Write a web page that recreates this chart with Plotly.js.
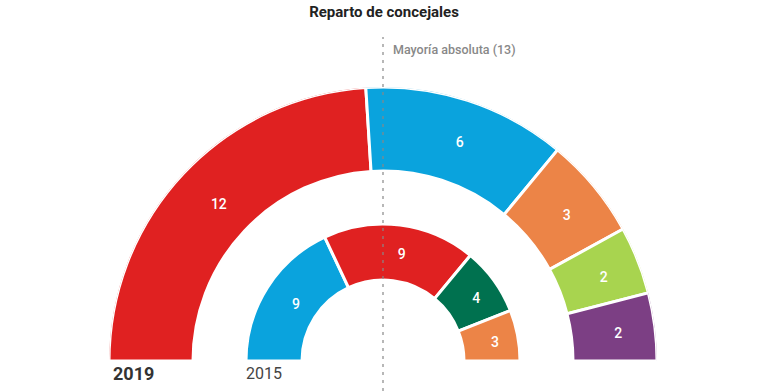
<!DOCTYPE html>
<html>
<head>
<meta charset="utf-8">
<script src="https://cdn.plot.ly/plotly-3.0.1.min.js"></script>
<style>html,body{margin:0;padding:0;background:#fff;}#chart{width:768px;height:391px;}</style>
</head>
<body>
<div id="chart"></div>
<script>
// Data
const seats2019 = [12, 6, 3, 2, 2];
const colors2019 = ['#e02121', '#0aa3dd', '#ec8447', '#a8d44f', '#7c3f84'];
const seats2015 = [9, 9, 4, 3];
const colors2015 = ['#0aa3dd', '#e02121', '#00714f', '#ec8447'];
const totalSeats = 25;
const majority = 13;
const yearLabels = ['2019', '2015'];

// ring radii (in radial axis units)
const outerRing = [190, 274];
const innerRing = [81, 137];

function ring(values, colors, radii) {
  const deg = 180 / totalSeats;
  let cum = 0;
  const theta = [], width = [];
  values.forEach(v => {
    theta.push(180 - (cum + v / 2) * deg);
    width.push(v * deg);
    cum += v;
  });
  const bars = {
    type: 'barpolar', subplot: 'polar',
    r: values.map(() => radii[1] - radii[0]),
    base: values.map(() => radii[0]),
    theta: theta,
    width: width,
    marker: {color: colors, line: {color: '#ffffff', width: 3}},
    hoverinfo: 'skip',
    showlegend: false
  };
  const labels = {
    type: 'scatterpolar', subplot: 'polar2',
    mode: 'text',
    r: values.map(() => (radii[0] + radii[1]) / 2),
    theta: theta,
    text: values.map(String),
    textfont: {color: '#ffffff', size: 14, family: 'Roboto, sans-serif', weight: 500},
    hoverinfo: 'skip',
    showlegend: false
  };
  return [bars, labels];
}

const data = [...ring(seats2019, colors2019, outerRing), ...ring(seats2015, colors2015, innerRing)];

const polarBase = {
  sector: [0, 180],
  bgcolor: 'rgba(0,0,0,0)',
  bargap: 0,
  radialaxis: {visible: false, range: [0, 274]},
  angularaxis: {visible: false, direction: 'counterclockwise', rotation: 0}
};

const layout = {
  width: 768, height: 391,
  margin: {l: 0, r: 0, t: 0, b: 0},
  paper_bgcolor: '#ffffff',
  font: {family: 'Roboto, sans-serif'},
  title: {text: '<b>Reparto de concejales</b>', x: 0.5, xanchor: 'center', y: 0.97, yanchor: 'middle',
          font: {size: 15, color: '#222222', family: 'Roboto, sans-serif'}},
  polar: Object.assign({}, polarBase, {domain: {x: [109/768, 657/768], y: [1 - 361/391, 1 - 87/391]}}),
  polar2: Object.assign({}, polarBase, {domain: {x: [114/768, 662/768], y: [1 - 364/391, 1 - 90/391]}}),
  shapes: [{
    type: 'line', xref: 'paper', yref: 'paper',
    x0: 383/768, x1: 383/768, y0: 0, y1: 1 - 37/391,
    line: {color: '#888888', width: 1.2, dash: '3px,5px'},
    layer: 'above'
  }],
  annotations: [
    {text: 'Mayoría absoluta (' + majority + ')', xref: 'paper', yref: 'paper', x: 391/768, y: 1 - 50/391,
     xanchor: 'left', yanchor: 'middle', showarrow: false, font: {size: 12.5, color: '#888888', weight: 500}},
    {text: '<b>' + yearLabels[0] + '</b>', xref: 'paper', yref: 'paper', x: 111/768, y: 1 - 373/391,
     xanchor: 'left', yanchor: 'middle', showarrow: false, font: {size: 18, color: '#333333'}},
    {text: yearLabels[1], xref: 'paper', yref: 'paper', x: 244/768, y: 1 - 373/391,
     xanchor: 'left', yanchor: 'middle', showarrow: false, font: {size: 16, color: '#444444'}}
  ]
};

Plotly.newPlot('chart', data, layout, {displayModeBar: false, staticPlot: true});
</script>
</body>
</html>
